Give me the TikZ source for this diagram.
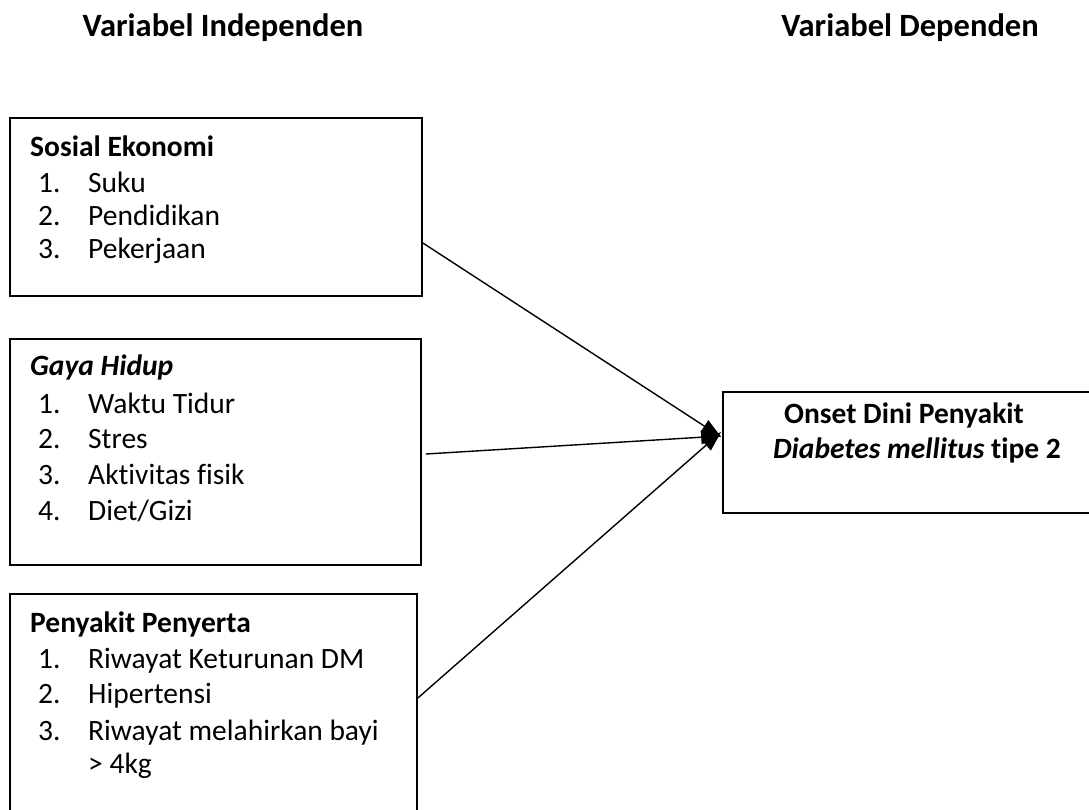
\documentclass[tikz,border=0pt]{standalone}
\usepackage{fontspec}
\setmainfont{Carlito}[Ligatures=NoCommon]
\usetikzlibrary{arrows.meta}
\begin{document}
\begin{tikzpicture}[x=1pt,y=-1pt,
  box/.style={draw=black,line width=1.7pt,rectangle,inner sep=0pt},
  txt/.style={anchor=base west,inner sep=0pt,font=\fontsize{29.5}{35}\selectfont},
  head/.style={anchor=base,inner sep=0pt,font=\fontsize{29.5}{35}\selectfont\bfseries},
  arr/.style={line width=1.4pt,-{Triangle[length=20pt,width=14pt]}}]
\useasboundingbox (0,0) rectangle (1089,809);
\fill[white] (0,0) rectangle (1089,809);
% headers
\node[head,font=\fontsize{32.5}{38}\selectfont\bfseries] (h1) at (223,36) {Variabel Independen};
\node[head,font=\fontsize{32.5}{38}\selectfont\bfseries] (h2) at (910,36) {Variabel Dependen};
% boxes
\node[box,minimum width=412pt,minimum height=178pt] (b1) at (216,207) {};
\node[box,minimum width=411pt,minimum height=226pt] (b2) at (215.5,452) {};
\node[box,minimum width=407pt,minimum height=236pt] (b3) at (213.5,712) {};
\node[box,minimum width=372pt,minimum height=121pt] (t) at (909,452.5) {};
% box 1
\node[txt,font=\fontsize{29.5}{35}\selectfont\bfseries] (b1h) at (30,156) {Sosial Ekonomi};
\node[txt] (b1n1) at (38,192) {1.};
\node[txt] (b1i1) at (88,192) {Suku};
\node[txt] (b1n2) at (38,225) {2.};
\node[txt] (b1i2) at (88,225) {Pendidikan};
\node[txt] (b1n3) at (38,258) {3.};
\node[txt] (b1i3) at (88,258) {Pekerjaan};
% box 2
\node[txt,font=\fontsize{29.5}{35}\selectfont\bfseries\itshape] (b2h) at (30,375) {Gaya Hidup};
\node[txt] (b2n1) at (38,413) {1.};
\node[txt] (b2i1) at (88,413) {Waktu Tidur};
\node[txt] (b2n2) at (38,448) {2.};
\node[txt] (b2i2) at (88,448) {Stres};
\node[txt] (b2n3) at (38,484) {3.};
\node[txt] (b2i3) at (88,484) {Aktivitas fisik};
\node[txt] (b2n4) at (38,520) {4.};
\node[txt] (b2i4) at (88,520) {Diet/Gizi};
% box 3
\node[txt,font=\fontsize{29.5}{35}\selectfont\bfseries] (b3h) at (30,632) {Penyakit Penyerta};
\node[txt] (b3n1) at (38,668) {1.};
\node[txt] (b3i1) at (88,668) {Riwayat Keturunan DM};
\node[txt] (b3n2) at (38,703) {2.};
\node[txt] (b3i2) at (88,703) {Hipertensi};
\node[txt] (b3n3) at (38,740) {3.};
\node[txt] (b3i3) at (88,740) {Riwayat melahirkan bayi};
\node[txt] (b3i3b) at (88,773) {> 4kg};
% target text
\node[head] (t1) at (904,423) {Onset Dini Penyakit};
\node[head] (t2) at (917,458) {\itshape Diabetes mellitus\upshape{} tipe 2};
% arrows
\draw[arr] ([yshift=-36pt]b1.east) -- ([yshift=15.5pt,xshift=-1pt]t.west);
\draw[arr] ([xshift=4pt,yshift=-2pt]b2.east) -- ([yshift=16.5pt,xshift=-1pt]t.west);
\draw[arr] ([yshift=14pt]b3.east) -- ([yshift=20.5pt,xshift=-1pt]t.west);
\end{tikzpicture}
\end{document}
